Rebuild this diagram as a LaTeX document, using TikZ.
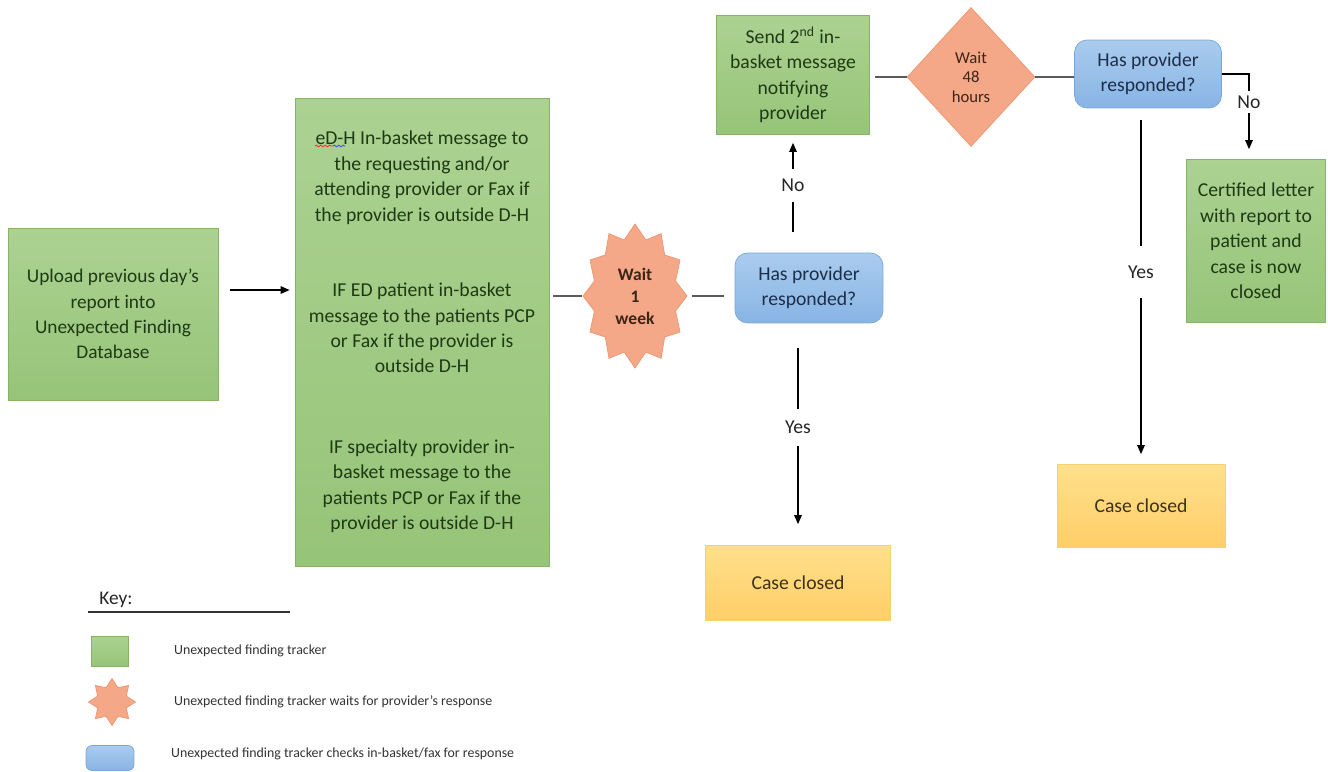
\documentclass[tikz,border=0pt]{standalone}
\usepackage{fontspec}
\setmainfont{Carlito}
\usetikzlibrary{positioning,arrows.meta,shapes.geometric,decorations.pathmorphing}
\definecolor{TrackGreen}{RGB}{172,210,146}
\definecolor{TrackGreenDark}{RGB}{150,196,120}
\definecolor{TrackEdge}{RGB}{134,178,106}
\definecolor{TextGreen}{RGB}{30,58,20}
\definecolor{CheckBlue}{RGB}{170,204,238}
\definecolor{CheckBlueDark}{RGB}{136,180,228}
\definecolor{CheckEdge}{RGB}{122,166,218}
\definecolor{TextBlue}{RGB}{28,46,74}
\definecolor{WaitOrange}{RGB}{245,168,136}
\definecolor{WaitEdge}{RGB}{236,150,112}
\definecolor{TextWait}{RGB}{60,36,24}
\definecolor{ClosedYellow}{RGB}{255,224,140}
\definecolor{ClosedYellowDark}{RGB}{255,206,104}
\definecolor{ClosedEdge}{RGB}{247,208,112}
\definecolor{TextBrown}{RGB}{60,50,24}
\definecolor{LineGray}{RGB}{90,90,90}
\tikzset{
  box/.style={draw=TrackEdge,top color=TrackGreen,bottom color=TrackGreenDark,text=TextGreen,align=center,font=\fontsize{11}{14.5}\selectfont},
  qbox/.style={draw=CheckEdge,top color=CheckBlue,bottom color=CheckBlueDark,text=TextBlue,rounded corners=0.25cm,align=center,font=\fontsize{11.2}{14.5}\selectfont},
  cbox/.style={draw=ClosedEdge,top color=ClosedYellow,bottom color=ClosedYellowDark,text=TextBrown,align=center,font=\fontsize{11.2}{14.5}\selectfont},
  waitfill/.style={draw=WaitEdge,fill=WaitOrange},
  waittext/.style={align=center,text=TextWait,inner sep=0pt},
  arrow/.style={-{Triangle[length=1.8mm,width=1.5mm]},line width=0.7pt,draw=black},
  link/.style={line width=0.8pt,draw=LineGray},
  lbl/.style={fill=white,inner xsep=1pt,text=black!85,font=\fontsize{11.2}{14}\selectfont},
  keytext/.style={anchor=west,text=black!80,font=\fontsize{7.9}{9.5}\selectfont},
  squiggle/.style={line width=0.5pt,decorate,decoration={snake,amplitude=0.5pt,segment length=2.5pt}},
}
\begin{document}
\begin{tikzpicture}[x=0.02cm,y=-0.02cm]
\useasboundingbox (0,0) rectangle (1328,771);
\node[box,minimum width=4.2cm,minimum height=3.44cm] (upload) at (113,314) {Upload previous day's\\report into\\Unexpected Finding\\Database};
\node[box,font=\fontsize{11.2}{14.5}\selectfont,minimum width=5.08cm,minimum height=9.36cm] (msg) at (422,332) {eD-H In-basket message to\\the requesting and/or\\attending provider or Fax if\\the provider is outside D-H\\[1cm]IF ED patient in-basket\\message to the patients PCP\\or Fax if the provider is\\outside D-H\\[1.1cm]IF specialty provider in-\\basket message to the\\patients PCP or Fax if the\\provider is outside D-H};
\draw[squiggle,red!80] (315,146) -- (333,146); \draw[squiggle,blue!70] (333,146) -- (345,146);
\draw[waitfill] plot[variable=\a,samples at={0,15,...,345}] ({635+(52-10*mod(\a/15,2))*cos(\a)},{296+(72-14*mod(\a/15,2))*sin(\a)}) -- cycle;
\node[waittext,font=\bfseries\fontsize{10}{12.5}\selectfont,minimum width=2.1cm,minimum height=2.86cm] (w1) at (635,296) {Wait\\1\\week};
\node[qbox,minimum width=2.96cm,minimum height=1.4cm] (q1) at (809,288) {Has provider\\responded?};
\node[box,font=\fontsize{11.2}{14.5}\selectfont,minimum width=3.06cm,minimum height=2.38cm] (send) at (793,75) {Send 2\textsuperscript{nd} in-\\basket message\\notifying\\provider};
\node[waitfill,waittext,diamond,font=\fontsize{9.5}{11}\selectfont,minimum width=2.56cm,minimum height=2.78cm] (w2) at (971,77) {Wait\\48\\hours};
\node[qbox,minimum width=2.94cm,minimum height=1.36cm] (q2) at (1148,74) {Has provider\\responded?};
\node[box,font=\fontsize{11.2}{14.5}\selectfont,minimum width=2.78cm,minimum height=3.26cm] (cert) at (1256,241) {Certified letter\\with report to\\patient and\\case is now\\closed};
\node[cbox,minimum width=3.7cm,minimum height=1.5cm] (closed1) at (798,583) {Case closed};
\node[cbox,minimum width=3.36cm,minimum height=1.66cm] (closed2) at (1141,506) {Case closed};
\coordinate (nobend) at ([xshift=-0.14cm]q2.east -| cert.north);
\draw[arrow,shorten <=0.24cm,shorten >=0.1cm] ([yshift=0.48cm]upload.east) -- ([yshift=0.48cm]upload.east -| msg.west);
\draw[link,shorten <=0.08cm] (msg.east |- w1.west) -- (w1.west); \draw[link,shorten <=0.08cm,shorten >=0.22cm] (w1.east) -- (w1.east -| q1.west);
\draw[link,shorten <=0.1cm] (send.east |- w2.west) -- (w2.west); \draw[link] (w2.east) -- (w2.east -| q2.west);
\draw[arrow,shorten <=0.42cm,shorten >=0.16cm] (q1.north -| send.south) -- node[lbl,inner ysep=0.2cm,pos=0.57]{No} (send.south);
\draw[arrow,shorten <=0.5cm,shorten >=0.42cm] (q1.south -| closed1.north) -- node[lbl,inner ysep=0.25cm,pos=0.47]{Yes} (closed1.north);
\draw[arrow,shorten <=0.24cm,shorten >=0.2cm] (q2.south -| closed2.north) -- node[lbl,inner ysep=0.4cm,pos=0.46]{Yes} (closed2.north);
\draw[arrow,shorten >=0.2cm] (q2.east) -- (nobend) -- node[lbl,inner ysep=0.1cm,pos=0.33]{No} (nobend |- cert.north);
\node[font=\fontsize{11}{13}\selectfont,text=black!85] (key) at (116,600) {Key:};
\coordinate (keyl) at (88,612); \coordinate (keyr) at (290,612);
\draw[line width=0.6pt,draw=black!80] (keyl) -- (keyr);
\node[box,minimum width=0.74cm,minimum height=0.6cm] (kgreen) at (110,651) {};
\draw[waitfill] plot[variable=\a,samples at={0,22.5,...,337.5}] ({112+(23.5-8*mod(\a/22.5,2))*cos(\a)},{702+(23.5-8*mod(\a/22.5,2))*sin(\a)}) -- cycle;
\node[qbox,rounded corners=0.12cm,minimum width=0.96cm,minimum height=0.5cm] (kblue) at (110,758) {};
\node[keytext] (kt1) at (168,651) {Unexpected finding tracker};
\node[keytext] (kt2) at (168,702) {Unexpected finding tracker waits for provider's response};
\node[keytext] (kt3) at (165,754) {Unexpected finding tracker checks in-basket/fax for response};
\end{tikzpicture}
\end{document}
